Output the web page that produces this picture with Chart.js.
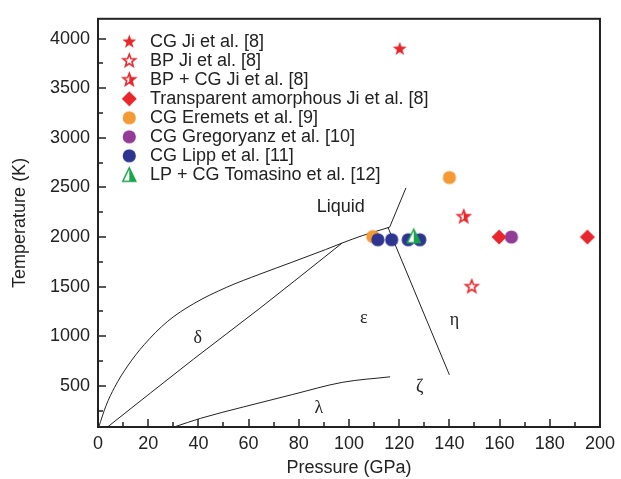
<!DOCTYPE html>
<html>
<head>
<meta charset="utf-8">
<script src="https://cdn.jsdelivr.net/npm/chart.js@4/dist/chart.umd.min.js"></script>
<style>
  html, body { margin: 0; background: #fff; }
  #wrap { width: 621px; height: 479px; }
</style>
</head>
<body>
<div id="wrap"><canvas id="chart"></canvas></div>
<script>
// axis ticks
const xTicks = [0, 20, 40, 60, 80, 100, 120, 140, 160, 180, 200];
const yTicks = [500, 1000, 1500, 2000, 2500, 3000, 3500, 4000];

// phase boundaries (pressure GPa, temperature K)
const meltP = [0.3, 3.2, 6.6, 11.8, 18.4, 27.6, 38.1, 51.3, 64.5, 77.6, 90.7, 97.3, 105.2, 116.2];
const meltT = [85, 300, 485, 700, 915, 1147, 1328, 1494, 1626, 1749, 1874, 1940, 2013, 2099];
const liquidP = [116.2, 122.7];
const liquidT = [2099, 2496];
const etaP = [115.5, 140];
const etaT = [2099, 611];
const deltaP = [3.8, 38.1, 64.5, 97.3];
const deltaT = [85, 770, 1282, 1940];
const lambdaP = [30.3, 40.8, 57.9, 77.6, 97.3, 116.4];
const lambdaT = [85, 172, 287, 413, 535, 591];

// experimental points
const cgJiP = [120.2];            const cgJiT = [3895];
const bpJiP = [148.9];            const bpJiT = [1500];
const bpCgJiP = [145.7];          const bpCgJiT = [2205];
const amorphP = [159.8, 195];     const amorphT = [2000, 2000];
const eremetsP = [109.5, 140];    const eremetsT = [2005, 2600];
const gregP = [164.7];            const gregT = [2000];
const lippP = [111.5, 117, 123.6, 128.2]; const lippT = [1973, 1973, 1973, 1973];
const tomP = [125.8];             const tomT = [2008];

// region labels
const regionNames = ['Liquid', 'δ', 'ε', 'η', 'ζ', 'λ'];
const regionP = [96.7, 39.7, 105.9, 142, 128.2, 88];
const regionT = [2303, 981, 1180, 1164, 485, 271];

const INK = '#222';
const RED = '#e8272c';

function pts(px, py) {
  return px.map((p, i) => ({ x: p, y: py[i] }));
}

function starPath(ctx, cx, cy, R, r) {
  ctx.beginPath();
  for (let i = 0; i < 10; i++) {
    const a = -Math.PI / 2 + i * Math.PI / 5;
    const rr = i % 2 ? r : R;
    ctx.lineTo(cx + rr * Math.cos(a), cy + rr * Math.sin(a));
  }
  ctx.closePath();
}

function marker(kind, color, w, cx) {
  const c = document.createElement('canvas');
  c.width = w;
  c.height = 18;
  const ctx = c.getContext('2d');
  const cy = 9;
  ctx.fillStyle = color;
  ctx.strokeStyle = color;
  if (kind === 'star') {
    starPath(ctx, cx, cy, 7.3, 3);
    ctx.fill();
  } else if (kind === 'openStar') {
    starPath(ctx, cx, cy, 6.6, 2.8);
    ctx.fillStyle = '#fff';
    ctx.fill();
    ctx.lineWidth = 1.6;
    ctx.stroke();
  } else if (kind === 'halfStar') {
    starPath(ctx, cx, cy, 6.6, 2.8);
    ctx.fillStyle = '#fff';
    ctx.fill();
    ctx.save();
    ctx.clip();
    ctx.fillStyle = color;
    ctx.fillRect(cx, 0, w, 18);
    ctx.restore();
    ctx.lineWidth = 1.6;
    ctx.stroke();
  } else if (kind === 'diamond') {
    ctx.beginPath();
    ctx.moveTo(cx, cy - 7.5);
    ctx.lineTo(cx + 7.5, cy);
    ctx.lineTo(cx, cy + 7.5);
    ctx.lineTo(cx - 7.5, cy);
    ctx.closePath();
    ctx.fill();
  } else if (kind === 'circle') {
    ctx.beginPath();
    ctx.arc(cx, cy, 6.6, 0, Math.PI * 2);
    ctx.fill();
  } else if (kind === 'halfTri') {
    ctx.beginPath();
    ctx.moveTo(cx, cy - 7);
    ctx.lineTo(cx + 6.5, cy + 6.5);
    ctx.lineTo(cx - 6.5, cy + 6.5);
    ctx.closePath();
    ctx.fillStyle = '#fff';
    ctx.fill();
    ctx.beginPath();
    ctx.moveTo(cx, cy - 7);
    ctx.lineTo(cx + 6.5, cy + 6.5);
    ctx.lineTo(cx, cy + 6.5);
    ctx.closePath();
    ctx.fillStyle = color;
    ctx.fill();
    ctx.beginPath();
    ctx.moveTo(cx, cy - 7);
    ctx.lineTo(cx + 6.5, cy + 6.5);
    ctx.lineTo(cx - 6.5, cy + 6.5);
    ctx.closePath();
    ctx.lineWidth = 1.5;
    ctx.stroke();
  }
  return c;
}

function boundary(px, py) {
  return {
    type: 'line',
    data: pts(px, py),
    borderColor: INK,
    borderWidth: 1,
    pointRadius: 0,
    cubicInterpolationMode: 'monotone',
    order: 10,
  };
}

function series(label, px, py, kind, color, order) {
  return {
    type: 'scatter',
    label: label,
    data: pts(px, py),
    pointStyle: marker(kind, color, 18, 9),
    legendImg: marker(kind, color, 42, 30.3),
    pointRadius: 7,
    backgroundColor: color,
    borderColor: color,
    order: order,
  };
}

const datasets = [
  boundary(meltP, meltT),
  boundary(liquidP, liquidT),
  boundary(etaP, etaT),
  boundary(deltaP, deltaT),
  boundary(lambdaP, lambdaT),
  series('CG Ji et al. [8]', cgJiP, cgJiT, 'star', RED, 2),
  series('BP Ji et al. [8]', bpJiP, bpJiT, 'openStar', RED, 2),
  series('BP + CG Ji et al. [8]', bpCgJiP, bpCgJiT, 'halfStar', RED, 2),
  series('Transparent amorphous Ji et al. [8]', amorphP, amorphT, 'diamond', RED, 2),
  series('CG Eremets et al. [9]', eremetsP, eremetsT, 'circle', '#f39a35', 6),
  series('CG Gregoryanz et al. [10]', gregP, gregT, 'circle', '#923c97', 2),
  series('CG Lipp et al. [11]', lippP, lippT, 'circle', '#2e3590', 4),
  series('LP + CG Tomasino et al. [12]', tomP, tomT, 'halfTri', '#1ba54b', 1),
];

// push the in-plot legend down a little from the top of the frame
const legendOffset = {
  id: 'legendOffset',
  afterUpdate(chart) {
    const lg = chart.legend;
    if (lg) {
      lg.top = chart.chartArea.top + 13;
      lg.bottom = chart.chartArea.bottom;
    }
  }
};

const frameTicks = {
  id: 'frameTicks',
  afterDatasetsDraw(chart) {
    const { ctx, chartArea: a, scales: { x, y } } = chart;
    ctx.save();
    ctx.strokeStyle = INK;
    ctx.lineWidth = 1.5;
    ctx.beginPath();
    for (let i = 0; i < xTicks.length; i++) {
      const px = Math.round(x.getPixelForValue(xTicks[i]));
      ctx.moveTo(px, a.bottom);
      ctx.lineTo(px, a.bottom - 8);
      if (i < xTicks.length - 1) {
        const mx = Math.round(x.getPixelForValue((xTicks[i] + xTicks[i + 1]) / 2));
        ctx.moveTo(mx, a.bottom);
        ctx.lineTo(mx, a.bottom - 5);
      }
    }
    const yAll = [yTicks[0] - 250].concat(yTicks);
    for (let i = 0; i < yAll.length; i++) {
      const py = Math.round(y.getPixelForValue(yAll[i]));
      if (i > 0) {
        ctx.moveTo(a.left, py);
        ctx.lineTo(a.left + 8, py);
      }
      const my = Math.round(y.getPixelForValue(i > 0 ? yAll[i] - 250 : yAll[i]));
      if (my < a.bottom - 2) {
        ctx.moveTo(a.left, my);
        ctx.lineTo(a.left + 5, my);
      }
    }
    ctx.stroke();
    ctx.lineWidth = 2;
    ctx.strokeRect(a.left, a.top, a.right - a.left, a.bottom - a.top);
    ctx.restore();
  }
};

const regionLabels = {
  id: 'regionLabels',
  afterDatasetsDraw(chart) {
    const { ctx, scales: { x, y } } = chart;
    ctx.save();
    ctx.fillStyle = INK;
    ctx.textAlign = 'center';
    ctx.textBaseline = 'middle';
    regionNames.forEach((name, i) => {
      ctx.font = name === 'Liquid' ? '18px "Liberation Sans", Arial, sans-serif'
                                   : '18px "Liberation Serif", "Times New Roman", serif';
      ctx.fillText(name, x.getPixelForValue(regionP[i]), y.getPixelForValue(regionT[i]));
    });
    ctx.restore();
  }
};

const font = { family: '"Liberation Sans", Arial, sans-serif', size: 18 };

new Chart(document.getElementById('chart'), {
  data: { datasets: datasets },
  plugins: [legendOffset, frameTicks, regionLabels],
  options: {
    responsive: true,
    maintainAspectRatio: false,
    animation: false,
    layout: { padding: { left: 0, right: 16, top: 13, bottom: 0 } },
    scales: {
      x: {
        type: 'linear',
        position: 'bottom',
        min: 0,
        max: 200,
        grid: { display: false, drawTicks: false },
        border: { display: false },
        afterBuildTicks: (s) => { s.ticks = xTicks.map(v => ({ value: v })); },
        afterFit: (s) => { s.height = 52; },
        ticks: { color: INK, font: font, padding: 6, maxRotation: 0, callback: (v) => String(v) },
        title: { display: true, text: 'Pressure (GPa)', color: INK, font: font, padding: { top: 0, bottom: 0 } },
      },
      y: {
        type: 'linear',
        position: 'left',
        min: 85,
        max: 4200,
        grid: { display: false, drawTicks: false },
        border: { display: false },
        afterBuildTicks: (s) => { s.ticks = yTicks.map(v => ({ value: v })); },
        afterFit: (s) => { s.width = 98; },
        ticks: { color: INK, font: font, padding: 8, callback: (v) => String(v) },
        title: { display: true, text: 'Temperature (K)', color: INK, font: font, padding: { top: 9, bottom: 0 } },
      },
    },
    plugins: {
      tooltip: { enabled: false },
      legend: {
        position: 'chartArea',
        align: 'start',
        labels: {
          usePointStyle: true,
          pointStyleWidth: 42,
          padding: 1,
          color: INK,
          font: font,
          generateLabels: (chart) => chart.data.datasets
            .map((ds, i) => ({ ds, i }))
            .filter(o => o.ds.legendImg)
            .map(o => ({
              text: o.ds.label,
              pointStyle: o.ds.legendImg,
              fillStyle: o.ds.backgroundColor,
              strokeStyle: o.ds.borderColor,
              lineWidth: 0,
              hidden: false,
              datasetIndex: o.i,
              fontColor: INK,
            })),
        },
      },
    },
  },
});
</script>
</body>
</html>
